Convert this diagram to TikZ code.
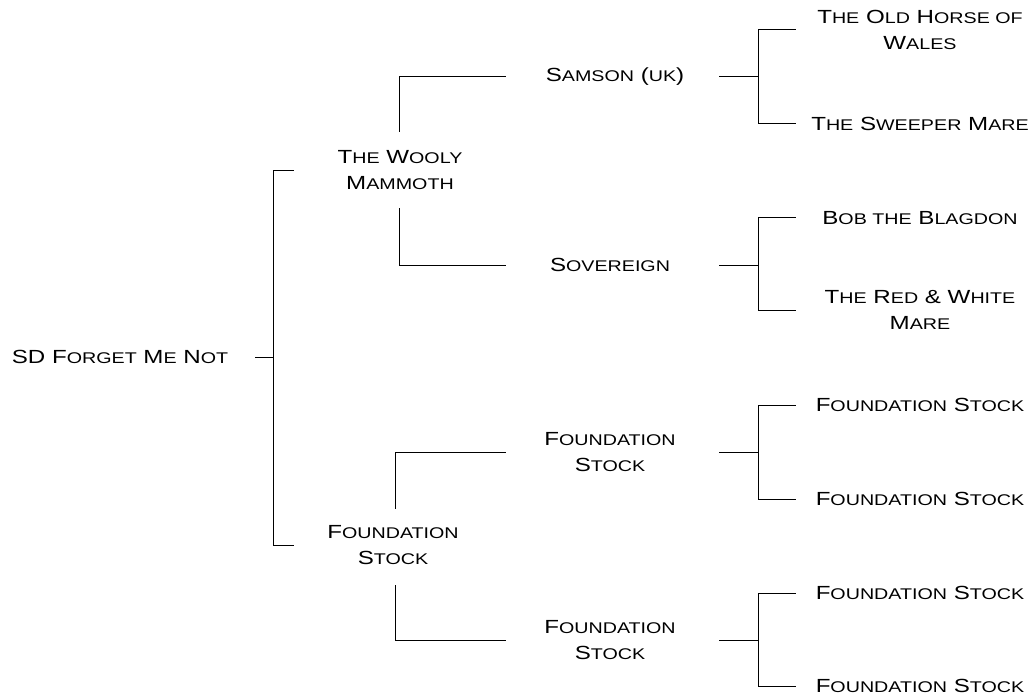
\documentclass[tikz,border=0pt]{standalone}
\usepackage{fontspec}
\newfontfamily\lblfam[FakeStretch=1.27]{Liberation Sans}
\newcommand\lblfont{\lblfam\fontsize{19}{26}\selectfont}
\newcommand\sm[1]{{\fontsize{15.5}{26}\selectfont #1}}
\begin{document}
\begin{tikzpicture}[x=1pt,y=-1pt,
  lbl/.style={align=center,font=\lblfont,inner sep=0pt},
  conn/.style={line width=1pt,line cap=rect}]
\useasboundingbox (0,0) rectangle (1029,698);
% nodes
\node[lbl] (root) at (120,357) {SD F\sm{ORGET} M\sm{E} N\sm{OT}};
\node[lbl] (wm) at (400,170) {T\sm{HE} W\sm{OOLY}\\M\sm{AMMOTH}};
\node[lbl] (fs1) at (393,545) {F\sm{OUNDATION}\\S\sm{TOCK}};
\node[lbl] (sam) at (615,77) {S\sm{AMSON} (\sm{UK})};
\node[lbl] (sov) at (610,265) {S\sm{OVEREIGN}};
\node[lbl] (fs2) at (610,452) {F\sm{OUNDATION}\\S\sm{TOCK}};
\node[lbl] (fs3) at (610,640) {F\sm{OUNDATION}\\S\sm{TOCK}};
\node[lbl] (old) at (920,30) {T\sm{HE} O\sm{LD} H\sm{ORSE OF}\\W\sm{ALES}};
\node[lbl] (swp) at (920,124) {T\sm{HE} S\sm{WEEPER} M\sm{ARE}};
\node[lbl] (bob) at (920,218) {B\sm{OB THE} B\sm{LAGDON}};
\node[lbl] (rw) at (920,310) {T\sm{HE} R\sm{ED} \& W\sm{HITE}\\M\sm{ARE}};
\node[lbl] (l1) at (920,405) {F\sm{OUNDATION} S\sm{TOCK}};
\node[lbl] (l2) at (920,499) {F\sm{OUNDATION} S\sm{TOCK}};
\node[lbl] (l3) at (920,593) {F\sm{OUNDATION} S\sm{TOCK}};
\node[lbl] (l4) at (920,686) {F\sm{OUNDATION} S\sm{TOCK}};
% coordinates
\coordinate (r0) at (255,357);
\coordinate (rj) at (273,357);
\coordinate (rT) at (293,171);
\coordinate (rB) at (293,545);
\coordinate (wmT) at (399,132);
\coordinate (wmB) at (399,209);
\coordinate (samL) at (505,77);
\coordinate (sovL) at (505,265);
\coordinate (fsT) at (395,508);
\coordinate (fsB) at (395,585);
\coordinate (fs2L) at (505,452);
\coordinate (fs3L) at (505,640);
\coordinate (samR) at (719,77);
\coordinate (sovR) at (719,265);
\coordinate (fs2R) at (719,452);
\coordinate (fs3R) at (719,640);
\coordinate (oldL) at (795,30);
\coordinate (swpL) at (795,124);
\coordinate (bobL) at (795,218);
\coordinate (rwL) at (795,310);
\coordinate (l1L) at (795,405);
\coordinate (l2L) at (795,499);
\coordinate (l3L) at (795,593);
\coordinate (l4L) at (795,686);
% connectors
\draw[conn] (r0) -- (rj);
\draw[conn] (rT) -- (rT -| rj) -- (rB -| rj) -- (rB);
\draw[conn] (wmT) |- (samL);
\draw[conn] (wmB) |- (sovL);
\draw[conn] (fsT) |- (fs2L);
\draw[conn] (fsB) |- (fs3L);
\foreach \p/\a/\b in {samR/oldL/swpL, sovR/bobL/rwL, fs2R/l1L/l2L, fs3R/l3L/l4L}{
  \draw[conn] (\p) -- ++(39,0);
  \draw[conn] (\a) -- ++(-37,0) |- (\b);
}
\end{tikzpicture}
\end{document}
